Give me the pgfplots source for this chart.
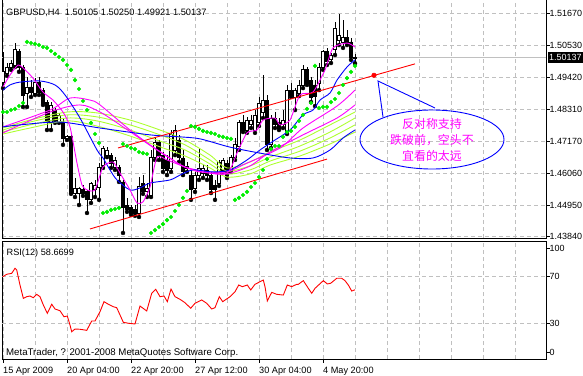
\documentclass[border=0pt]{standalone}
\usepackage{pgfplots}
\pgfplotsset{compat=1.18}
\usepackage{pgfplotstable}
\usepackage{fontspec}
\setmainfont{Liberation Sans}
\newfontfamily\cjk{Noto Sans CJK SC}
\definecolor{mtgrid}{RGB}{192,192,192}
\definecolor{mtmag}{RGB}{255,0,255}
\definecolor{mtblue}{RGB}{0,0,255}
\definecolor{mtyg}{RGB}{173,255,47}
\definecolor{mtsar}{RGB}{0,238,0}
\definecolor{mtred}{RGB}{255,0,0}
\newcommand\mtfont{\fontsize{9}{10}\selectfont}

\pgfplotstableread{
i O H L C
0 1.4926 1.5032 1.4905 1.4962
1 1.4955 1.4993 1.4948 1.4976
2 1.4976 1.5004 1.4969 1.4993
3 1.4986 1.5063 1.4979 1.5039
4 1.5035 1.5042 1.4962 1.4976
5 1.4979 1.4986 1.4839 1.4881
6 1.4888 1.4944 1.4839 1.4909
7 1.4909 1.4933 1.4874 1.4891
8 1.4888 1.4940 1.4881 1.4926
9 1.4926 1.4944 1.4881 1.4891
10 1.4898 1.4905 1.4846 1.4853
11 1.4856 1.4863 1.4758 1.4786
12 1.4786 1.4856 1.4758 1.4846
13 1.4828 1.4835 1.4783 1.4793
14 1.4786 1.4818 1.4783 1.4811
15 1.4786 1.4800 1.4706 1.4730
16 1.4730 1.4741 1.4723 1.4734
17 1.4734 1.4741 1.4534 1.4537
18 1.4537 1.4590 1.4523 1.4555
19 1.4537 1.4558 1.4495 1.4555
20 1.4551 1.4565 1.4527 1.4537
21 1.4541 1.4548 1.4467 1.4513
22 1.4513 1.4576 1.4502 1.4572
23 1.4548 1.4583 1.4523 1.4565
24 1.4558 1.4642 1.4513 1.4628
25 1.4635 1.4702 1.4625 1.4695
26 1.4670 1.4698 1.4663 1.4688
27 1.4670 1.4677 1.4625 1.4642
28 1.4628 1.4663 1.4618 1.4653
29 1.4628 1.4635 1.4576 1.4600
30 1.4576 1.4583 1.4397 1.4488
31 1.4495 1.4520 1.4471 1.4478
32 1.4485 1.4495 1.4460 1.4467
33 1.4478 1.4495 1.4457 1.4464
34 1.4464 1.4593 1.4453 1.4562
35 1.4572 1.4600 1.4534 1.4544
36 1.4541 1.4572 1.4523 1.4555
37 1.4530 1.4688 1.4523 1.4663
38 1.4663 1.4730 1.4653 1.4716
39 1.4713 1.4723 1.4653 1.4670
40 1.4670 1.4681 1.4611 1.4625
41 1.4653 1.4670 1.4600 1.4618
42 1.4625 1.4758 1.4611 1.4741
43 1.4688 1.4776 1.4670 1.4758
44 1.4723 1.4741 1.4646 1.4663
45 1.4660 1.4688 1.4600 1.4614
46 1.4625 1.4646 1.4611 1.4632
47 1.4600 1.4618 1.4513 1.4548
48 1.4555 1.4611 1.4541 1.4600
49 1.4600 1.4695 1.4583 1.4625
50 1.4607 1.4635 1.4590 1.4625
51 1.4618 1.4635 1.4583 1.4600
52 1.4600 1.4611 1.4537 1.4548
53 1.4565 1.4583 1.4513 1.4548
54 1.4572 1.4653 1.4562 1.4646
55 1.4618 1.4660 1.4611 1.4653
56 1.4642 1.4653 1.4590 1.4600
57 1.4618 1.4670 1.4611 1.4663
58 1.4663 1.4730 1.4653 1.4706
59 1.4699 1.4793 1.4688 1.4783
60 1.4783 1.4811 1.4751 1.4758
61 1.4758 1.4804 1.4748 1.4793
62 1.4776 1.4811 1.4765 1.4793
63 1.4758 1.4828 1.4748 1.4811
64 1.4783 1.4874 1.4772 1.4853
65 1.4821 1.4951 1.4800 1.4863
66 1.4863 1.4881 1.4688 1.4706
67 1.4706 1.4811 1.4695 1.4800
68 1.4800 1.4821 1.4765 1.4776
69 1.4783 1.4800 1.4758 1.4765
70 1.4776 1.4828 1.4765 1.4793
71 1.4751 1.4916 1.4744 1.4898
72 1.4898 1.4923 1.4874 1.4881
73 1.4874 1.4905 1.4828 1.4898
74 1.4888 1.4933 1.4877 1.4916
75 1.4916 1.4986 1.4905 1.4969
76 1.4969 1.4979 1.4916 1.4923
77 1.4933 1.4944 1.4856 1.4874
78 1.4916 1.4933 1.4842 1.4877
79 1.4923 1.4993 1.4898 1.4979
80 1.4979 1.5039 1.4969 1.5032
81 1.5032 1.5046 1.4986 1.4997
82 1.5004 1.5028 1.4993 1.5021
83 1.5039 1.5137 1.5021 1.5116
84 1.5074 1.5165 1.5056 1.5091
85 1.5067 1.5144 1.5046 1.5084
86 1.5084 1.5109 1.5056 1.5063
87 1.5067 1.5081 1.5004 1.5011
88 1.50105 1.50250 1.49921 1.50137
}\candles

\pgfplotstableread{
i s
0 1.4821
1 1.4821
2 1.4828
3 1.4832
4 1.4842
5 1.4853
6 1.5067
7 1.5063
8 1.5060
9 1.5056
10 1.5049
11 1.5046
12 1.5035
13 1.5025
14 1.5014
15 1.5004
16 1.4986
17 1.4969
18 1.4933
19 1.4902
20 1.4860
21 1.4828
22 1.4783
23 1.4744
24 1.4713
25 1.4467
26 1.4471
27 1.4478
28 1.4481
29 1.4485
30 1.4709
31 1.4702
32 1.4695
33 1.4691
34 1.4681
35 1.4677
36 1.4674
37 1.4397
38 1.4407
39 1.4418
40 1.4428
41 1.4442
42 1.4453
43 1.4474
44 1.4495
45 1.4520
46 1.4544
47 1.4772
48 1.4769
49 1.4762
50 1.4755
51 1.4751
52 1.4748
53 1.4744
54 1.4737
55 1.4734
56 1.4730
57 1.4727
58 1.4513
59 1.4520
60 1.4530
61 1.4541
62 1.4558
63 1.4572
64 1.4593
65 1.4618
66 1.4656
67 1.4691
68 1.4702
69 1.4702
70 1.4734
71 1.4751
72 1.4755
73 1.4769
74 1.4790
75 1.4811
76 1.4832
77 1.4853
78 1.4983
79 1.4835
80 1.4839
81 1.4839
82 1.4856
83 1.4867
84 1.4888
85 1.4916
86 1.4940
87 1.4962
88 1.4983
}\sar

\begin{document}
\begin{tikzpicture}
\useasboundingbox (0,0) rectangle (583bp,-376bp);

% ---------- main panel: grid, ticks, wicks
\begin{axis}[
  at={(2bp,-238bp)}, anchor=south west,
  scale only axis, width=544bp, height=240bp,
  xmin=-0.25, xmax=135.75, ymin=1.43793, ymax=1.52210,
  axis line style={black, line width=0.9bp},
  xtick={0,16,32,48,64,80},
  minor xtick={8,24,40,56,72,88,96,104,112,120,128},
  xticklabels={}, xtick style={draw=none},
  ytick={1.43840,1.44950,1.46060,1.47170,1.48310,1.49420,1.50530,1.51670},
  yticklabels={1.43840,1.44950,1.46060,1.47170,1.48310,1.49420,1.50530,1.51670},
  ytick pos=right, tick align=outside, major tick length=3.5bp, minor tick length=0pt,
  ytick style={black, line width=0.9bp},
  yticklabel style={anchor=west, inner sep=0pt, font=\mtfont},
  xmajorgrids, xminorgrids, ymajorgrids,
  major grid style={mtgrid, dash pattern=on 4bp off 3bp, line width=0.9bp},
  minor grid style={mtgrid, dash pattern=on 4bp off 3bp, line width=0.9bp},
]
\addplot[mtgrid, line width=0.9bp] coordinates {(-0.25,1.50137) (135.75,1.50137)};
\addplot[black, only marks, mark=none,
  error bars/.cd, y dir=plus, y explicit, error mark=none,
  error bar style={black, line width=0.9bp}]
  table[x=i, y=L, y error plus expr={\thisrow{H}-\thisrow{L}}] {\candles};
\end{axis}

% ---------- candle bodies
\begin{axis}[
  at={(2bp,-238bp)}, anchor=south west,
  scale only axis, width=544bp, height=240bp,
  xmin=-0.25, xmax=135.75, ymin=1.43793, ymax=1.52210,
  hide axis, ybar stacked, bar width=0.6,
]
\addplot[draw=none, fill=none] table[x=i, y expr={min(\thisrow{O},\thisrow{C})}] {\candles};
\addplot[draw=black, fill=white, line width=0.8bp] table[x=i, y expr={max(\thisrow{C}-\thisrow{O},0)}] {\candles};
\addplot[draw=black, fill=black, line width=0.8bp] table[x=i, y expr={max(\thisrow{O}-\thisrow{C},0)}] {\candles};
\end{axis}

% ---------- indicators and trend lines
\begin{axis}[
  at={(2bp,-238bp)}, anchor=south west,
  scale only axis, width=544bp, height=240bp,
  xmin=-0.25, xmax=135.75, ymin=1.43793, ymax=1.52210,
  hide axis,
]
% yellow-green slow MAs
\addplot[mtyg, line width=0.9bp, smooth, tension=0.5] coordinates {(0,1.4765) (6.75,1.4793) (16,1.4821) (23.5,1.4818) (31.75,1.4793) (39.25,1.4758) (45.5,1.4723) (51.75,1.4670) (56,1.4625) (61.75,1.4646) (66.75,1.4681) (74.25,1.4723) (81.75,1.4776) (88,1.4821)};
\addplot[mtyg, line width=0.9bp, smooth, tension=0.5] coordinates {(0,1.4758) (6.75,1.4786) (16,1.4811) (23.5,1.4804) (31.75,1.4776) (39.25,1.4741) (45.5,1.4706) (51.75,1.4653) (56,1.4614) (61.75,1.4632) (66.75,1.4663) (74.25,1.4702) (81.75,1.4751) (88,1.4800)};
\addplot[mtyg, line width=0.9bp, smooth, tension=0.5] coordinates {(0,1.4751) (6.75,1.4776) (16,1.4800) (23.5,1.4790) (31.75,1.4758) (39.25,1.4719) (45.5,1.4688) (51.75,1.4639) (56,1.4604) (61.75,1.4618) (66.75,1.4649) (74.25,1.4684) (81.75,1.4730) (88,1.4776)};
\addplot[mtyg, line width=0.9bp, smooth, tension=0.5] coordinates {(0,1.4744) (6.75,1.4765) (16,1.4790) (23.5,1.4772) (31.75,1.4737) (39.25,1.4699) (45.5,1.4667) (51.75,1.4625) (56,1.4593) (61.75,1.4604) (66.75,1.4635) (74.25,1.4667) (81.75,1.4709) (88,1.4751)};
% slower magenta MAs
\addplot[mtmag, line width=0.9bp, smooth, tension=0.5] coordinates {(0,1.4769) (11.75,1.4828) (16.75,1.4870) (21.75,1.4863) (24.25,1.4846) (31.75,1.4758) (36.75,1.4706) (41.75,1.4660) (45.5,1.4628) (51.75,1.4611) (56,1.4611) (61,1.4642) (69.25,1.4695) (75,1.4765) (83.5,1.4842) (88,1.4898)};
\addplot[mtmag, line width=0.9bp, smooth, tension=0.5] coordinates {(0,1.4748) (11.75,1.4821) (19.25,1.4846) (24.25,1.4821) (30,1.4769) (38.5,1.4688) (45.5,1.4628) (51.75,1.4607) (56,1.4604) (61.75,1.4632) (66.75,1.4681) (75,1.4741) (83.5,1.4800) (88,1.4846)};
% slow blue
\addplot[mtblue, line width=0.9bp, smooth, tension=0.5] coordinates {(0,1.4769) (4.25,1.4776) (14.25,1.4786) (24.25,1.4765) (36.75,1.4741) (44.25,1.4734) (49.25,1.4727) (56.75,1.4698) (64.25,1.4677) (71.75,1.4660) (77.5,1.4660) (81.75,1.4688) (85,1.4730) (88,1.4758)};
% medium blue
\addplot[mtblue, line width=0.9bp, smooth, tension=0.5] coordinates {(0,1.4898) (1.75,1.4916) (4.25,1.4926) (9.25,1.4930) (13,1.4916) (15.5,1.4881) (19.25,1.4800) (23.5,1.4688) (25,1.4660) (26.75,1.4618) (28.5,1.4583) (31.75,1.4548) (34.25,1.4555) (36.75,1.4572) (41.75,1.4583) (44.25,1.4600) (47.5,1.4618) (52.5,1.4611) (56.75,1.4618) (61,1.4653) (64.25,1.4688) (68,1.4723) (71.75,1.4758) (75,1.4811) (77.5,1.4828) (79.25,1.4863) (81.75,1.4888) (83.5,1.4933) (86,1.4979) (88,1.5004)};
% fast magenta
\addplot[mtmag, line width=0.9bp, smooth, tension=0.4] coordinates {(0,1.4909) (1.75,1.4951) (3.75,1.4986) (5,1.4976) (7.5,1.4940) (10,1.4891) (12.5,1.4863) (15,1.4821) (16.75,1.4769) (18.5,1.4642) (19.75,1.4565) (21,1.4548) (23,1.4548) (25,1.4628) (27.5,1.4646) (29.25,1.4607) (31.75,1.4548) (33.5,1.4502) (35,1.4506) (36.75,1.4558) (38.5,1.4663) (41,1.4653) (44.25,1.4635) (47.5,1.4618) (49.25,1.4611) (56,1.4607) (58.5,1.4677) (61,1.4748) (63.5,1.4758) (65,1.4793) (68,1.4800) (69.25,1.4776) (71.75,1.4793) (74.25,1.4881) (77.5,1.4891) (80.5,1.4969) (82.5,1.5046) (86,1.5063) (88,1.5049)};
% trend lines
\addplot[mtred, line width=0.9bp] coordinates {(28.75,1.4695) (103,1.4990)};
\addplot[mtred, line width=0.9bp] coordinates {(21.75,1.4411) (81,1.4656)};
\addplot[mtred, only marks, mark=*, mark size=2.3bp] coordinates {(92.75,1.4950)};
% parabolic SAR
\addplot[only marks, mark=*, mark size=1.9bp, mark options={draw=mtsar, fill=mtsar}] table[x=i, y=s] {\sar};
\end{axis}

% ---------- RSI panel
\begin{axis}[
  at={(2bp,-359bp)}, anchor=south west,
  scale only axis, width=544bp, height=118bp,
  xmin=-0.25, xmax=135.75, ymin=0, ymax=100,
  axis line style={black, line width=0.9bp},
  xtick={0,16,32,48,64,80},
  xticklabels={15 Apr 2009,20 Apr 04:00,22 Apr 20:00,27 Apr 12:00,30 Apr 04:00,4 May 20:00},
  minor xtick={8,24,40,56,72,88,96,104,112,120,128},
  xtick pos=left, ytick pos=right, tick align=outside,
  major tick length=3.5bp, minor tick length=0pt,
  tick style={black, line width=0.9bp},
  xticklabel style={anchor=base west, inner sep=0pt, yshift=-10.8bp, font=\fontsize{9.2}{10}\selectfont},
  yticklabel style={anchor=west, inner sep=0pt, font=\mtfont},
  ytick={5.9,94.1}, yticklabels={0,100},
  extra y ticks={30,70}, extra y tick labels={30,70},
  extra y tick style={grid=major},
  xmajorgrids, xminorgrids,
  major grid style={mtgrid, dash pattern=on 4bp off 3bp, line width=0.9bp},
  minor grid style={mtgrid, dash pattern=on 4bp off 3bp, line width=0.9bp},
]
\addplot[mtred, line width=0.9bp] coordinates {(-0.08,69.7) (0.93,71.8) (2.18,72.6) (3,76.9) (3.43,75.4) (4.25,62.7) (5.08,51.4) (5.93,52.8) (6.75,53.4) (7.58,51.9) (8.43,54.8) (9.25,52.8) (10.08,45.8) (11.08,38.7) (12.18,46.4) (13,42.4) (14.25,40.9) (15.25,35.8) (16.08,36.4) (16.75,28.8) (17.18,23.1) (18,25.4) (19.25,25.2) (20.93,24.3) (22.18,32.2) (23,32.2) (24.25,40.1) (25.25,48.6) (26.33,46.4) (27.58,44.3) (28.43,43.5) (30.08,31.1) (31.33,30.3) (33,29.7) (34.25,44.9) (35.93,40.7) (37.18,55.7) (38.18,59.1) (39.25,52.8) (40.25,53.4) (41.08,48.6) (42,59.3) (43,52.8) (44.25,50.6) (45.5,47.7) (46.93,43.0) (48,47.2) (49.68,50.0) (50.93,47.2) (52.18,42.4) (53,43.5) (54.08,52.8) (54.93,48.6) (56.75,52.8) (58,57.0) (58.93,62.7) (59.83,61.3) (61.08,62.7) (61.93,58.5) (63,63.3) (64.25,65.5) (65.08,66.9) (65.5,61.3) (66.08,49.2) (67.18,56.5) (68.43,54.8) (70.08,54.2) (71.08,62.7) (72.18,61.3) (73.43,63.3) (73.83,63.3) (75.08,66.4) (76.33,59.9) (77.18,55.7) (78,59.9) (80.08,66.4) (81.08,63.6) (81.93,64.2) (83.43,68.4) (84.68,68.4) (85.5,66.4) (86.33,62.7) (87.18,57.6) (88,58.67)};
\end{axis}

% ---------- texts and annotation
\node[anchor=base west, inner sep=0pt, font=\fontsize{9.3}{10}\selectfont] at (6bp,-15bp) {GBPUSD,H4\ \ 1.50105 1.50250 1.49921 1.50137};
\node[anchor=base west, inner sep=0pt, font=\fontsize{9.2}{10}\selectfont] at (6.5bp,-255.3bp) {RSI(12) 58.6699};
\node[anchor=base west, inner sep=0pt, font=\fontsize{9.7}{10}\selectfont] at (6bp,-355bp) {MetaTrader, ? 2001-2008 MetaQuotes Software Corp.};
\node[anchor=west, fill=black, text=white, inner xsep=1bp, inner ysep=0pt, minimum height=11bp, font=\mtfont] at (548bp,-57.5bp) {1.50137};
\draw[mtblue, line width=0.9bp] (432bp,-139.5bp) ellipse [x radius=72bp, y radius=29.5bp];
\draw[mtblue, line width=0.9bp] (383bp,-117bp) -- (378bp,-81bp) -- (435bp,-108bp);
\node[align=center, text=mtmag, inner sep=0pt, font=\cjk\fontsize{12}{16}\selectfont] at (432bp,-140bp) {反对称支持\\跌破前，空头不\\宜看的太远};
\end{tikzpicture}
\end{document}
